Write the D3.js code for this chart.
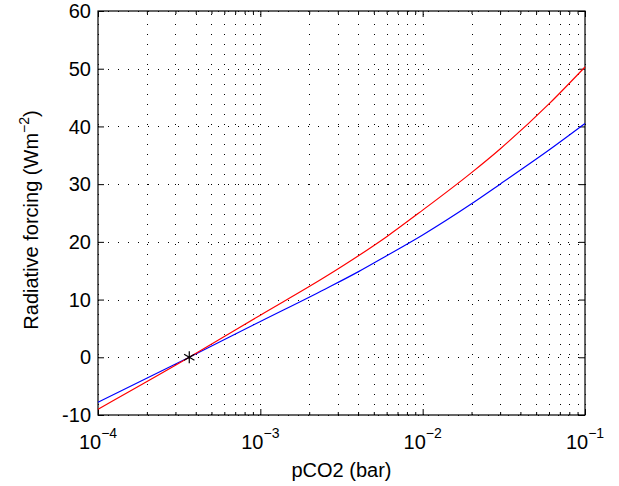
<!DOCTYPE html>
<html><head><meta charset="utf-8">
<script src="https://cdn.jsdelivr.net/npm/d3@7"></script>
<style>
html,body{margin:0;padding:0;background:#fff;}
svg{display:block;}
text{font-family:"Liberation Sans",Arial,Helvetica,sans-serif;fill:#000;}
</style></head>
<body>
<svg id="chart" width="619" height="486"></svg>
<script>
// ---- data ----
const pco2        = [1e-4, 3.65e-4, 1e-3, 2.5e-3, 4e-3, 6e-3, 1e-2, 2e-2, 3e-2, 6e-2, 1e-1];
const forcingRed  = [-9.0, 0, 7.3, 13.9, 17.55, 20.9, 25.5, 32.0, 36.1, 43.9, 50.3];
const forcingBlue = [-7.8, 0, 6.2, 11.8, 14.8, 17.6, 21.2, 26.6, 30.0, 35.9, 40.5];
const refPoint = [3.65e-4, 0];
const xTickExps = [-4, -3, -2, -1];
const yTicks = [-10, 0, 10, 20, 30, 40, 50, 60];
const xLabel = "pCO2 (bar)";

const svg = d3.select("#chart");
const L = 98, R = 585, T = 11, B = 415;
const x = d3.scaleLog().domain([1e-4, 1e-1]).range([L, R]);
const y = d3.scaleLinear().domain([-10, 60]).range([B, T]);

const majors = xTickExps.map(e => Math.pow(10, e));
const minors = [];
for (let e = -4; e < -1; e++) for (let m = 2; m <= 9; m++) minors.push(m * Math.pow(10, e));

// grid
const grid = svg.append("g").attr("stroke", "#000").attr("stroke-width", 1)
  .attr("stroke-dasharray", "1,9").attr("shape-rendering", "crispEdges");
majors.concat(minors).forEach(v => {
  const xx = Math.round(x(v)) + 0.5;
  grid.append("line").attr("x1", xx).attr("x2", xx).attr("y1", B).attr("y2", T);
});
yTicks.forEach(v => {
  const yy = Math.round(y(v)) + 0.5;
  grid.append("line").attr("x1", L).attr("x2", R).attr("y1", yy).attr("y2", yy);
});

// axes ticks (inward, all four sides)
function styleAxis(g){ g.select(".domain").remove(); g.selectAll("line").attr("stroke","#000"); }
svg.append("g").attr("transform", `translate(0,${B})`)
  .call(d3.axisBottom(x).tickValues(majors).tickSizeInner(-6).tickSizeOuter(0).tickFormat(""))
  .call(styleAxis);
svg.append("g").attr("transform", `translate(0,${B})`)
  .call(d3.axisBottom(x).tickValues(minors).tickSizeInner(-3).tickSizeOuter(0).tickFormat(""))
  .call(styleAxis);
svg.append("g").attr("transform", `translate(0,${T})`)
  .call(d3.axisTop(x).tickValues(majors).tickSizeInner(-6).tickSizeOuter(0).tickFormat(""))
  .call(styleAxis);
svg.append("g").attr("transform", `translate(0,${T})`)
  .call(d3.axisTop(x).tickValues(minors).tickSizeInner(-3).tickSizeOuter(0).tickFormat(""))
  .call(styleAxis);
svg.append("g").attr("transform", `translate(${L},0)`)
  .call(d3.axisLeft(y).tickValues(yTicks).tickSizeInner(-6).tickSizeOuter(0).tickFormat(""))
  .call(styleAxis);
svg.append("g").attr("transform", `translate(${R},0)`)
  .call(d3.axisRight(y).tickValues(yTicks).tickSizeInner(-6).tickSizeOuter(0).tickFormat(""))
  .call(styleAxis);

// box
svg.append("rect").attr("x", L).attr("y", T).attr("width", R - L).attr("height", B - T)
  .attr("fill", "none").attr("stroke", "#000").attr("stroke-width", 1.2);

// curves
const line = d3.line().x(d => x(d[0])).y(d => y(d[1])).curve(d3.curveMonotoneX);
svg.append("path").datum(pco2.map((p, i) => [p, forcingBlue[i]]))
  .attr("d", line).attr("fill", "none").attr("stroke", "#0000ff").attr("stroke-width", 1.2);
svg.append("path").datum(pco2.map((p, i) => [p, forcingRed[i]]))
  .attr("d", line).attr("fill", "none").attr("stroke", "#ff0000").attr("stroke-width", 1.2);

// marker
svg.append("path").attr("d", d3.symbol().type(d3.symbolAsterisk).size(100)())
  .attr("transform", `translate(${x(refPoint[0])},${y(refPoint[1])})`)
  .attr("fill", "none").attr("stroke", "#000").attr("stroke-width", 1.2);

// tick labels
yTicks.forEach(v => {
  svg.append("text").attr("x", L - 7).attr("y", y(v)).attr("dy", "0.36em")
    .attr("text-anchor", "end").attr("font-size", 20).text(v);
});
xTickExps.forEach(e => {
  const t = svg.append("text").attr("x", x(Math.pow(10, e))).attr("y", 449)
    .attr("text-anchor", "middle").attr("font-size", 20);
  t.append("tspan").text("10");
  t.append("tspan").attr("dy", -11).attr("font-size", 14).text("\u2212" + Math.abs(e));
});

// axis labels
svg.append("text").attr("x", (L + R) / 2).attr("y", 477).attr("text-anchor", "middle")
  .attr("font-size", 20).text(xLabel);
const yl = svg.append("text").attr("transform", `translate(38,220) rotate(-90)`)
  .attr("text-anchor", "middle").attr("font-size", 20);
yl.append("tspan").text("Radiative forcing (Wm");
yl.append("tspan").attr("dy", -9).attr("font-size", 14).text("\u22122");
yl.append("tspan").attr("dy", 9).text(")");
</script>
</body></html>
